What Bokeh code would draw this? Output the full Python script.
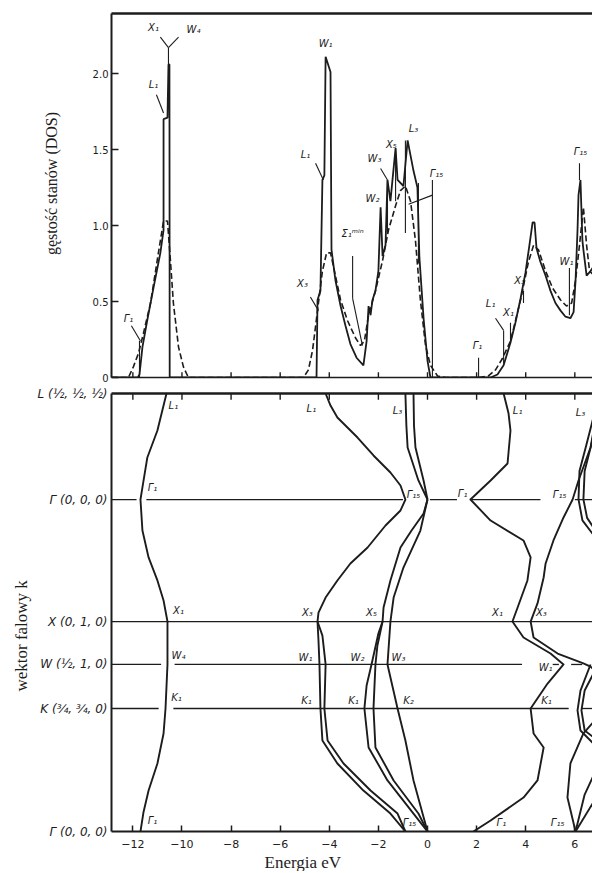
import math
from bokeh.plotting import figure
from bokeh.models import Range1d, FixedTicker, LinearAxis, Title
from bokeh.layouts import column
from bokeh.embed import file_html
from bokeh.resources import INLINE
from bokeh.core.properties import value

INK = "#1c1c1c"

# ---------------- data ----------------
energy_ticks = [-12, -10, -8, -6, -4, -2, 0, 2, 4, 6]
energy_labels = ["−12", "−10", "−8", "−6", "−4", "−2", "0", "2", "4", "6"]
dos_ticks = [0, 0.5, 1, 1.5, 2]
dos_labels = ["0", "0.5", "1.0", "1.5", "2.0"]
kpoint_pos = [0, 1, 1.358, 1.707, 2.699, 3.561]
kpoint_names = ["Γ (0, 0, 0)", "K (¾, ¾, 0)", "W (½, 1, 0)", "X (0, 1, 0)", "Γ (0, 0, 0)", "L (½, ½, ½)"]

# density of states: calculated histogram (solid) and smoothed (dashed)
dos_solid_E = [-12.87, -11.80, -11.73, -11.61, -11.41, -11.16, -10.88, -10.75, -10.75, -10.59, -10.55,
               -10.51, -10.50, -4.52, -4.48, -4.36, -4.28, -4.20, -4.15, -3.95, -3.91, -3.75, -3.54,
               -3.34, -3.14, -2.89, -2.61, -2.48, -2.40, -2.32, -2.24, -2.12, -2.00, -1.91, -1.83,
               -1.71, -1.63, -1.51, -1.30, -1.22, -0.98, -0.81, -0.57, -0.41, -0.33, -0.16, 0.00,
               0.12, 2.57, 2.85, 3.10, 3.38, 3.58, 3.79, 3.99, 4.15, 4.28, 4.36, 4.44, 4.60, 4.81,
               5.01, 5.21, 5.42, 5.62, 5.82, 5.95, 6.03, 6.11, 6.15, 6.23, 6.31, 6.35, 6.48, 6.64, 6.80]
dos_solid_D = [0.00, 0.00, 0.02, 0.20, 0.38, 0.59, 0.82, 0.97, 1.70, 1.71, 2.06,
               2.06, 0.00, 0.00, 0.51, 0.57, 1.30, 1.33, 2.11, 2.01, 0.84, 0.64, 0.47,
               0.34, 0.22, 0.13, 0.08, 0.24, 0.47, 0.41, 0.51, 0.57, 0.70, 1.12, 0.80,
               0.87, 1.30, 1.16, 1.51, 1.30, 1.26, 1.56, 1.36, 1.25, 0.79, 0.39, 0.11,
               0.00, 0.00, 0.02, 0.08, 0.23, 0.36, 0.52, 0.69, 0.87, 1.02, 1.02, 0.85, 0.76, 0.67,
               0.57, 0.49, 0.44, 0.40, 0.39, 0.43, 0.64, 0.97, 1.20, 1.30, 0.90, 0.84, 0.67, 0.70, 0.74]
dos_dash_E = [-12.87, -12.18, -11.98, -11.77, -11.57, -11.28, -10.96, -10.79, -10.75, -10.59, -10.47,
              -10.35, -10.14, -9.94, -9.74, -5.05, -4.85, -4.68, -4.48, -4.28, -4.11, -3.95, -3.75,
              -3.54, -3.26, -2.93, -2.73, -2.57, -2.40, -2.12, -1.83, -1.59, -1.30, -1.10, -0.90,
              -0.69, -0.49, -0.29, -0.08, 0.12, 0.41, 0.73, 2.08, 2.48, 2.77, 3.05, 3.38, 3.79,
              4.11, 4.32, 4.52, 4.81, 5.09, 5.42, 5.66, 5.87, 6.03, 6.19, 6.35, 6.48, 6.60, 6.80]
dos_dash_D = [0.00, 0.00, 0.07, 0.16, 0.29, 0.49, 0.82, 0.99, 1.03, 1.03, 0.77,
              0.49, 0.20, 0.07, 0.00, 0.00, 0.05, 0.18, 0.44, 0.70, 0.82, 0.82, 0.67,
              0.51, 0.375, 0.26, 0.21, 0.24, 0.41, 0.57, 0.77, 0.97, 1.13, 1.23, 1.26,
              1.16, 0.90, 0.51, 0.21, 0.08, 0.01, 0.00, 0.00, 0.01, 0.05, 0.125, 0.24, 0.51,
              0.76, 0.87, 0.84, 0.70, 0.59, 0.51, 0.47, 0.49, 0.64, 0.87, 1.12, 0.87, 0.70, 0.67]

# critical-point marker strokes in the DOS panel (E0, D0) -> (E1, D1)
mark_E0 = [-10.55, -10.55, -10.55, -10.75, -11.69, -11.73, -4.24, -4.44, -3.05, -3.05, -1.63, -1.63,
           -1.30, -0.90, -0.37, 0.20, 0.20, 2.08, 3.10, 3.10, 3.38, 3.91, 5.78, 6.19]
mark_D0 = [2.06, 2.17, 2.17, 1.74, 0.24, 0.00, 1.30, 0.44, 0.80, 0.52, 1.30, 1.30,
           1.51, 1.56, 1.28, 1.30, 1.20, 0.00, 0.09, 0.31, 0.22, 0.49, 0.41, 1.30]
mark_E1 = [-10.55, -10.88, -10.14, -11.04, -12.06, -11.73, -4.56, -4.77, -3.05, -2.65, -1.91, -1.63,
           -1.30, -0.90, -0.37, 0.20, -0.77, 2.08, 3.10, 2.77, 3.38, 3.91, 5.78, 6.19]
mark_D1 = [2.17, 2.24, 2.24, 1.86, 0.34, 0.24, 1.41, 0.53, 0.52, 0.21, 1.375, 0.95,
           1.16, 0.95, 0.75, 0.00, 1.14, 0.13, 0.31, 0.39, 0.36, 0.57, 0.72, 1.41]

dos_lab_text = ["Γ₁", "L₁", "X₁", "W₄", "W₁", "L₁", "X₃", "Σ₁ᵐⁱⁿ", "W₃", "W₂", "X₅", "L₃", "Γ₁₅",
                "Γ₁", "L₁", "X₁", "X₃", "W₁", "Γ₁₅"]
dos_lab_E = [-12.18, -11.16, -11.16, -9.53, -4.15, -4.97, -5.09, -3.05, -2.16, -2.24, -1.47, -0.57, 0.37,
             2.04, 2.57, 3.30, 3.75, 5.66, 6.23]
dos_lab_D = [0.39, 1.93, 2.30, 2.29, 2.20, 1.47, 0.62, 0.95, 1.44, 1.18, 1.53, 1.64, 1.34,
             0.21, 0.49, 0.43, 0.64, 0.76, 1.49]

# band structure E(k)
band1_E = [-10.63, -11.00, -11.41, -11.61, -11.69, -11.61, -11.36, -11.00, -10.75, -10.59, -10.59,
           -10.67, -10.75, -11.00, -11.36, -11.57, -11.69]
band1_k = [3.561, 3.260, 3.041, 2.797, 2.699, 2.447, 2.228, 2.041, 1.878, 1.707, 1.358,
           1.000, 0.797, 0.553, 0.333, 0.154, 0.000]
band2_E = [-4.15, -3.95, -3.67, -2.85, -2.20, -1.51, -1.10, -0.90, -1.10, -1.71, -2.44, -3.14,
           -3.67, -4.15, -4.44, -4.48]
band2_k = [3.561, 3.463, 3.366, 3.203, 3.057, 2.919, 2.813, 2.699, 2.610, 2.488, 2.309, 2.179,
           2.041, 1.902, 1.780, 1.707]
band2a_E = [-4.48, -4.44, -4.40, -4.36, -4.28, -3.67, -2.61, -1.51, -0.90]
band2a_k = [1.707, 1.553, 1.358, 1.000, 0.740, 0.553, 0.333, 0.146, 0.000]
band2b_E = [-4.48, -4.28, -4.15, -4.20, -4.07, -3.42, -2.32, -1.22, -0.90]
band2b_k = [1.707, 1.593, 1.358, 1.000, 0.740, 0.553, 0.333, 0.146, 0.000]
band3u_E = [-0.90, -0.86, -0.81, -0.37, 0.00]
band3v_E = [-0.57, -0.55, -0.49, -0.16, 0.00]
band3u_k = [3.561, 3.300, 3.122, 2.854, 2.699]
band3_E = [0.00, -0.16, -0.65, -1.10, -1.51, -1.79, -1.83]
band3_k = [2.699, 2.585, 2.447, 2.309, 2.041, 1.821, 1.707]
band3a_E = [-1.83, -2.00, -2.28, -2.48, -2.57, -2.40, -1.63, -0.57, 0.00]
band3a_k = [1.707, 1.610, 1.358, 1.187, 1.000, 0.683, 0.415, 0.146, 0.000]
band3b_E = [-1.83, -2.04, -2.12, -2.20, -2.12, -1.38, -0.37, 0.00]
band3b_k = [1.707, 1.512, 1.358, 1.000, 0.683, 0.415, 0.146, 0.000]
band4_E = [0.00, -0.29, -0.98, -1.38, -1.51, -1.63, -1.22, -0.90, -0.57, 0.00]
band4_k = [2.699, 2.447, 2.146, 1.902, 1.707, 1.358, 1.000, 0.740, 0.415, 0.000]
band5_E = [3.10, 3.30, 3.38, 3.26, 2.57, 1.75, 2.57, 3.91, 4.20, 4.07, 3.67, 3.46, 3.91, 5.01,
           5.54, 4.89, 4.20, 4.32, 4.73, 4.48, 3.91, 2.57, 1.87]
band5_k = [3.561, 3.400, 3.260, 2.992, 2.854, 2.699, 2.528, 2.366, 2.228, 2.041, 1.821, 1.707, 1.577, 1.447,
           1.358, 1.203, 1.000, 0.797, 0.683, 0.415, 0.276, 0.089, 0.000]
band6_E = [6.80, 6.64, 6.15, 5.91, 5.54, 5.13, 4.81, 4.73, 4.48, 4.20, 4.32, 5.30, 6.35, 6.64, 6.80]
band6_k = [3.260, 3.122, 2.854, 2.699, 2.553, 2.366, 2.179, 2.065, 1.854, 1.707, 1.577, 1.447, 1.366, 1.340, 1.310]
band7a_E = [6.64, 6.23, 6.11, 6.23, 6.76]
band7a_k = [1.358, 1.146, 0.984, 0.821, 0.715]
band7b_E = [6.80, 6.40, 6.27, 6.40, 6.80]
band7b_k = [1.300, 1.146, 0.984, 0.821, 0.760]
band8a_E = [6.03, 5.70, 5.82, 6.35, 6.80]
band8a_k = [0.000, 0.276, 0.553, 0.797, 0.900]
band8b_E = [6.03, 6.40, 6.80]
band8b_k = [0.000, 0.300, 0.472]
band8c_E = [6.03, 6.80]
band8c_k = [0.000, 0.252]
band9a_E = [6.80, 6.44, 6.19, 6.15, 6.31, 6.80]
band9a_k = [3.400, 3.120, 2.930, 2.700, 2.530, 2.400]
band9b_E = [6.80, 6.64, 6.40, 6.35, 6.50, 6.80]
band9b_k = [3.300, 3.120, 2.930, 2.700, 2.550, 2.460]

# horizontal symmetry-point lines (k, E0, E1)
hl_k = [2.699, 2.699, 2.699, 2.699, 2.699, 1.707, 1.358, 1.358, 1.358, 1.358, 1.000, 1.000, 1.000]
hl_E0 = [-12.87, -11.45, 0.10, 1.80, 6.00, -12.87, -12.87, -10.30, 5.10, 5.85, -12.87, -10.35, 6.25]
hl_E1 = [-11.85, -1.00, 1.20, 4.60, 6.80, 6.80, -10.85, 3.85, 5.35, 6.30, -10.95, 5.75, 6.80]

band_lab_text = ["L₁", "Γ₁", "X₁", "W₄", "K₁", "Γ₁", "L₁", "L₃", "L₁", "L₃", "Γ₁₅", "Γ₁", "Γ₁₅",
                 "X₃", "X₅", "X₁", "X₃", "W₁", "W₂", "W₃", "W₁", "K₁", "K₁", "K₂", "K₁",
                 "Γ₁₅", "Γ₁", "Γ₁₅"]
band_lab_E = [-10.35, -11.20, -10.14, -10.14, -10.22, -11.20, -4.73, -1.22, 3.67, 6.23, -0.57, 1.43, 5.38,
              -4.89, -2.28, 2.85, 4.64, -4.97, -2.85, -1.18, 4.81, -4.93, -3.01, -0.77, 4.85,
              -0.73, 3.01, 5.30]
band_lab_k = [3.46, 2.80, 1.80, 1.43, 1.09, 0.09, 3.44, 3.42, 3.42, 3.41, 2.74, 2.75, 2.74,
              1.78, 1.78, 1.78, 1.78, 1.415, 1.415, 1.415, 1.33, 1.065, 1.065, 1.065, 1.065,
              0.073, 0.073, 0.073]

# ---------------- figures ----------------
XMIN, XMAX = -12.87, 6.72
DOS_MAX = 2.395
K_MAX = 3.561
xr = Range1d(XMIN, XMAX)

def ovr(ticks, labels):
    return {(int(t) if float(t).is_integer() else t): l for t, l in zip(ticks, labels)}

TICK_FONT = "DejaVu Sans"
SERIF = "Liberation Serif"
NB = "\u00a0"

def bare_axis(width):
    return LinearAxis(ticker=FixedTicker(ticks=[]), major_tick_in=0, major_tick_out=0,
                      minor_tick_in=0, minor_tick_out=0, major_label_standoff=0,
                      axis_line_width=width, axis_line_color=INK)

# --- DOS panel ---
p1 = figure(width=592, height=385, x_range=xr, y_range=Range1d(0, DOS_MAX),
            output_backend="svg", toolbar_location=None, x_axis_location=None,
            min_border_left=111, min_border_right=0, min_border_top=13, min_border_bottom=8)
p1.outline_line_color = None
p1.grid.visible = False

ya = p1.yaxis[0]
ya.ticker = FixedTicker(ticks=dos_ticks)
ya.major_label_overrides = ovr(dos_ticks, dos_labels)
ya.major_tick_in = 7
ya.major_tick_out = 0
ya.minor_tick_in = 0
ya.minor_tick_out = 0
ya.major_label_standoff = 3
ya.axis_line_width = 2
ya.major_tick_line_width = 1.5
ya.axis_line_color = INK
ya.major_tick_line_color = INK
ya.major_label_text_font = TICK_FONT
ya.major_label_text_font_size = "10px"
ya.major_label_text_color = INK
ya.axis_label = NB * 6 + "gęstość stanów (DOS)"
ya.axis_label_text_font = SERIF
ya.axis_label_text_font_size = "16px"
ya.axis_label_text_font_style = "normal"
ya.axis_label_text_color = INK
ya.axis_label_standoff = 30

p1.add_layout(bare_axis(1.6), "below")
p1.add_layout(bare_axis(2.4), "above")
# inward tick marks on the DOS baseline
p1.segment(energy_ticks, [0] * len(energy_ticks), energy_ticks, [0.035] * len(energy_ticks),
           line_color=INK, line_width=1.4)

p1.line(dos_solid_E, dos_solid_D, line_color=INK, line_width=1.8)
p1.line(dos_dash_E, dos_dash_D, line_color=INK, line_width=1.6, line_dash="6 3")
p1.segment(mark_E0, mark_D0, mark_E1, mark_D1, line_color=INK, line_width=1.1)
p1.text(dos_lab_E, dos_lab_D, text=dos_lab_text, text_font=value(TICK_FONT),
        text_font_style="italic", text_font_size="10px", text_color=INK,
        text_align="center", text_baseline="middle")

# --- band structure panel ---
p2 = figure(width=592, height=486, x_range=xr, y_range=Range1d(0, K_MAX),
            output_backend="svg", toolbar_location=None,
            min_border_left=111, min_border_right=0, min_border_top=8, min_border_bottom=40)
p2.outline_line_color = None
p2.grid.visible = False

ka = p2.yaxis[0]
ka.ticker = FixedTicker(ticks=kpoint_pos)
ka.major_label_overrides = ovr(kpoint_pos, kpoint_names)
ka.major_tick_in = 0
ka.major_tick_out = 0
ka.minor_tick_in = 0
ka.minor_tick_out = 0
ka.major_label_standoff = 4
ka.axis_line_width = 2
ka.axis_line_color = INK
ka.major_label_text_font = TICK_FONT
ka.major_label_text_font_style = "italic"
ka.major_label_text_font_size = "12px"
ka.major_label_text_color = INK
ka.axis_label = "wektor falowy  k" + NB * 10
ka.axis_label_text_font = SERIF
ka.axis_label_text_font_size = "17px"
ka.axis_label_text_font_style = "normal"
ka.axis_label_text_color = INK
ka.axis_label_standoff = 3

ea = p2.xaxis[0]
ea.ticker = FixedTicker(ticks=energy_ticks)
ea.major_label_overrides = ovr(energy_ticks, energy_labels)
ea.major_tick_in = 6
ea.major_tick_out = 0
ea.minor_tick_in = 0
ea.minor_tick_out = 0
ea.major_label_standoff = 8
ea.axis_line_width = 2
ea.axis_line_color = INK
ea.major_tick_line_color = INK
ea.major_tick_line_width = 1.5
ea.major_label_text_font = TICK_FONT
ea.major_label_text_font_size = "11px"
ea.major_label_text_color = INK

p2.add_layout(bare_axis(2.4), "above")
p2.segment(energy_ticks, [K_MAX] * len(energy_ticks), energy_ticks, [K_MAX - 0.05] * len(energy_ticks),
           line_color=INK, line_width=1.4)

p2.add_layout(Title(text="Energia eV", align="left", offset=153, standoff=0,
                    text_font=SERIF, text_font_size="17px", text_font_style="normal",
                    text_color=INK), "below")

p2.segment(hl_E0, hl_k, hl_E1, hl_k, line_color=INK, line_width=1.3)

bands_E = [band1_E, band2_E, band2a_E, band2b_E, band3u_E, band3v_E, band3_E, band3a_E, band3b_E,
           band4_E, band5_E, band6_E, band7a_E, band7b_E, band8a_E, band8b_E, band8c_E, band9a_E, band9b_E]
bands_k = [band1_k, band2_k, band2a_k, band2b_k, band3u_k, band3u_k, band3_k, band3a_k, band3b_k,
           band4_k, band5_k, band6_k, band7a_k, band7b_k, band8a_k, band8b_k, band8c_k, band9a_k, band9b_k]
p2.multi_line(bands_E, bands_k, line_color=INK, line_width=1.9, line_join="round")

p2.text(band_lab_E, band_lab_k, text=band_lab_text, text_font=value(TICK_FONT),
        text_font_style="italic", text_font_size="10px", text_color=INK,
        text_align="center", text_baseline="middle")

layout = column(p1, p2)
open("out.html", "w").write(file_html(layout, INLINE))
